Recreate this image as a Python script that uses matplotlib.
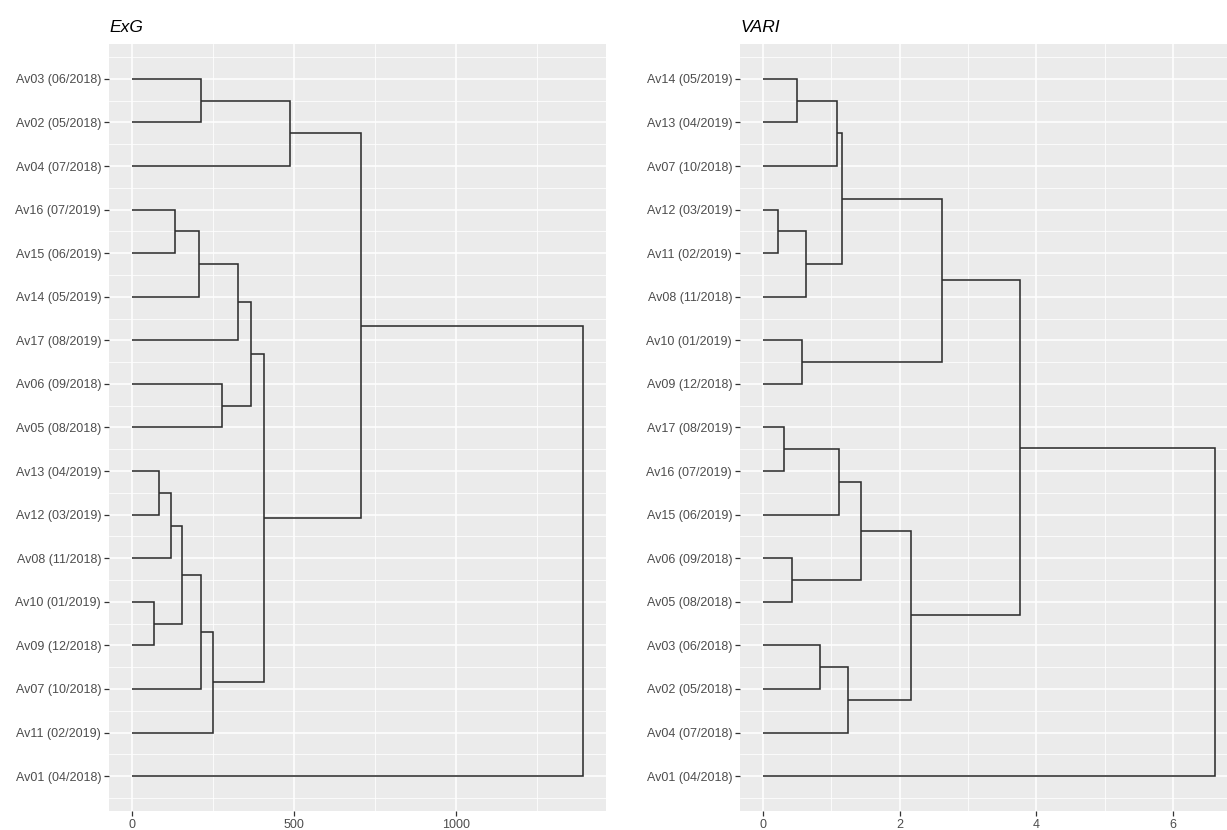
import matplotlib
matplotlib.use("Agg")
import matplotlib.pyplot as plt
from matplotlib.ticker import FixedLocator

plt.rcParams['font.family'] = ['Liberation Sans', 'DejaVu Sans']

# ---------------- data ----------------
exg_title = "ExG"
exg_leaves = ["Av03 (06/2018)", "Av02 (05/2018)", "Av04 (07/2018)", "Av16 (07/2019)",
              "Av15 (06/2019)", "Av14 (05/2019)", "Av17 (08/2019)", "Av06 (09/2018)",
              "Av05 (08/2018)", "Av13 (04/2019)", "Av12 (03/2019)", "Av08 (11/2018)",
              "Av10 (01/2019)", "Av09 (12/2018)", "Av07 (10/2018)", "Av11 (02/2019)",
              "Av01 (04/2018)"]
# merges: (child a, child b, height); children are leaf labels or "m<k>"
exg_merges = [
    ("Av03 (06/2018)", "Av02 (05/2018)", 213),
    ("m0", "Av04 (07/2018)", 488),
    ("Av16 (07/2019)", "Av15 (06/2019)", 133),
    ("m2", "Av14 (05/2019)", 207),
    ("m3", "Av17 (08/2019)", 327),
    ("Av06 (09/2018)", "Av05 (08/2018)", 278),
    ("m4", "m5", 367),
    ("Av13 (04/2019)", "Av12 (03/2019)", 84),
    ("m7", "Av08 (11/2018)", 121),
    ("Av10 (01/2019)", "Av09 (12/2018)", 68),
    ("m8", "m9", 155),
    ("m10", "Av07 (10/2018)", 213),
    ("m11", "Av11 (02/2019)", 250),
    ("m6", "m12", 407),
    ("m1", "m13", 707),
    ("m14", "Av01 (04/2018)", 1392),
]
exg_ticks = [0, 500, 1000]
exg_minor = [250, 750, 1250]

vari_title = "VARI"
vari_leaves = ["Av14 (05/2019)", "Av13 (04/2019)", "Av07 (10/2018)", "Av12 (03/2019)",
               "Av11 (02/2019)", "Av08 (11/2018)", "Av10 (01/2019)", "Av09 (12/2018)",
               "Av17 (08/2019)", "Av16 (07/2019)", "Av15 (06/2019)", "Av06 (09/2018)",
               "Av05 (08/2018)", "Av03 (06/2018)", "Av02 (05/2018)", "Av04 (07/2018)",
               "Av01 (04/2018)"]
vari_merges = [
    ("Av14 (05/2019)", "Av13 (04/2019)", 0.49),
    ("m0", "Av07 (10/2018)", 1.08),
    ("Av12 (03/2019)", "Av11 (02/2019)", 0.22),
    ("m2", "Av08 (11/2018)", 0.63),
    ("m1", "m3", 1.16),
    ("Av10 (01/2019)", "Av09 (12/2018)", 0.57),
    ("m4", "m5", 2.62),
    ("Av17 (08/2019)", "Av16 (07/2019)", 0.31),
    ("m7", "Av15 (06/2019)", 1.11),
    ("Av06 (09/2018)", "Av05 (08/2018)", 0.42),
    ("m8", "m9", 1.43),
    ("Av03 (06/2018)", "Av02 (05/2018)", 0.84),
    ("m11", "Av04 (07/2018)", 1.25),
    ("m10", "m12", 2.16),
    ("m6", "m13", 3.76),
    ("m14", "Av01 (04/2018)", 6.62),
]
vari_ticks = [0, 2, 4, 6]
vari_minor = [1, 3, 5]

# ---------------- drawing ----------------
W, H = 1227, 830
fig = plt.figure(figsize=(W / 100, H / 100), dpi=100)
fig.patch.set_facecolor("white")

panel_top, panel_bot = 44, 811


def draw(rect_px, title, leaves, merges, ticks, minor):
    x0, x1 = rect_px
    ax = fig.add_axes([x0 / W, 1 - panel_bot / H, (x1 - x0) / W, (panel_bot - panel_top) / H])
    ax.set_facecolor("#EBEBEB")
    for s in ax.spines.values():
        s.set_visible(False)

    pos = {lab: i + 1 for i, lab in enumerate(leaves)}
    hgt = {lab: 0.0 for lab in leaves}
    for k, (a, b, h) in enumerate(merges):
        ya, yb = pos[a], pos[b]
        ha, hb = hgt[a], hgt[b]
        ax.plot([ha, h, h, hb], [ya, ya, yb, yb], color="#2e2e2e", lw=1.15,
                solid_joinstyle="miter", solid_capstyle="butt", zorder=3)
        pos["m%d" % k] = (ya + yb) / 2
        hgt["m%d" % k] = h

    top = merges[-1][2]
    ax.set_xlim(-0.05 * top, 1.05 * top)
    n = len(leaves)
    ax.set_ylim(n + 0.8, 1 - 0.8)

    ax.set_xticks(ticks)
    ax.set_xticklabels([str(t) for t in ticks])
    ax.xaxis.set_minor_locator(FixedLocator(minor))
    ax.set_yticks(range(1, n + 1))
    ax.set_yticklabels(leaves)
    ax.yaxis.set_minor_locator(FixedLocator([i + 0.5 for i in range(0, n + 1)]))

    ax.grid(which="major", color="white", lw=1.1, zorder=0)
    ax.grid(which="minor", color="white", lw=0.55, zorder=0)
    ax.set_axisbelow(True)

    ax.tick_params(axis="both", which="major", length=3.5, width=0.9, color="#333333",
                   labelsize=9, labelcolor="#4D4D4D", pad=2.5)
    ax.tick_params(axis="both", which="minor", length=0)

    ax.set_title(title, loc="left", fontstyle="italic", fontsize=12.5,
                 color="black", pad=9)
    return ax


draw((109.4, 605.7), exg_title, exg_leaves, exg_merges, exg_ticks, exg_minor)
draw((740.4, 1238.0), vari_title, vari_leaves, vari_merges, vari_ticks, vari_minor)

fig.savefig("out.png", dpi=100, facecolor="white")
